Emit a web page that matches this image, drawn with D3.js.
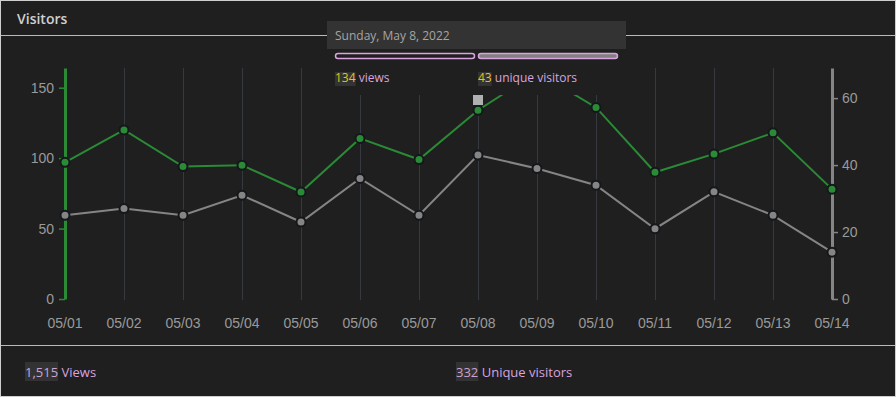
<!DOCTYPE html>
<html><head><meta charset="utf-8">
<script src="https://cdn.jsdelivr.net/npm/d3@7"></script>
<style>
html,body{margin:0;padding:0;background:#1f1f1f;}
svg{display:block;}
</style></head>
<body>
<svg id="c" width="896" height="397"></svg>
<script>
const dates = ["05/01","05/02","05/03","05/04","05/05","05/06","05/07","05/08","05/09","05/10","05/11","05/12","05/13","05/14"];
const views = [97,120,94,95,76,114,99,134,161,136,90,103,118,78];
const uniques = [25,27,25,31,23,36,25,43,39,34,21,32,25,14];
const leftTicks = [0,50,100,150];
const rightTicks = [0,20,40,60];
const title = "Visitors";
const tipDate = "Sunday, May 8, 2022";
const hoverIndex = 7;
const totalViews = "1,515";
const totalUniques = "332";

const W = 896, H = 397;
const svg = d3.select("#c");
const green = "#2a8a36", gray = "#858585", pink = "#d9a3df", txt = "#9a9a9a";
const fontUI = "'Open Sans','Noto Sans',sans-serif";
const fontAx = "'Liberation Sans',Arial,sans-serif";

svg.append("rect").attr("x",0.5).attr("y",0.5).attr("width",W-1).attr("height",H-1)
  .attr("fill","#1f1f1f").attr("stroke","#cfcfcf").attr("stroke-width",1);

svg.append("text").attr("x",17).attr("y",24).text(title)
  .attr("fill","#d0d0d0").attr("font-family",fontUI).attr("font-size",14).attr("font-weight",600);

svg.append("line").attr("x1",1).attr("x2",W-1).attr("y1",35.5).attr("y2",35.5).attr("stroke",pink).attr("stroke-width",1);
svg.append("line").attr("x1",1).attr("x2",W-1).attr("y1",345.5).attr("y2",345.5).attr("stroke",pink).attr("stroke-width",1);

const x = d3.scalePoint().domain(dates).range([65,832]);
const yL = d3.scaleLinear().domain([0,164]).range([299,68]);
const yR = d3.scaleLinear().domain([0,69]).range([299,68]);

// grid
svg.append("g").selectAll("line").data(dates.slice(1,-1)).join("line")
  .attr("x1",d=>Math.round(x(d))+0.5).attr("x2",d=>Math.round(x(d))+0.5)
  .attr("y1",68).attr("y2",300).attr("stroke","#363a40").attr("stroke-width",1);

// x labels
svg.append("g").selectAll("text").data(dates).join("text")
  .attr("x",d=>x(d)).attr("y",328).attr("text-anchor","middle").text(d=>d)
  .attr("fill",txt).attr("font-family",fontAx).attr("font-size",14);

// left axis
const gL = svg.append("g").attr("transform","translate(65,0)")
  .call(d3.axisLeft(yL).tickValues(leftTicks).tickSize(6).tickSizeOuter(0).tickPadding(5));
gL.select(".domain").attr("stroke",green).attr("stroke-width",3);
gL.selectAll(".tick line").attr("stroke",green).attr("stroke-width",1.5);
gL.selectAll(".tick text").attr("fill",txt).attr("font-family",fontAx).attr("font-size",14);

// right axis
const gR = svg.append("g").attr("transform","translate(832,0)")
  .call(d3.axisRight(yR).tickValues(rightTicks).tickSize(6).tickSizeOuter(0).tickPadding(4));
gR.select(".domain").attr("stroke",gray).attr("stroke-width",3);
gR.selectAll(".tick line").attr("stroke",gray).attr("stroke-width",1.5);
gR.selectAll(".tick text").attr("fill",txt).attr("font-family",fontAx).attr("font-size",14);

// lines
const lv = d3.line().x((d,i)=>x(dates[i])).y(d=>yL(d));
const lu = d3.line().x((d,i)=>x(dates[i])).y(d=>yR(d));
svg.append("path").datum(views).attr("d",lv).attr("fill","none").attr("stroke",green).attr("stroke-width",2);
svg.append("path").datum(uniques).attr("d",lu).attr("fill","none").attr("stroke",gray).attr("stroke-width",2);

svg.append("g").selectAll("circle").data(views).join("circle")
  .attr("cx",(d,i)=>x(dates[i])).attr("cy",d=>yL(d)).attr("r",4.5)
  .attr("fill",green).attr("stroke","#14171b").attr("stroke-width",2);
svg.append("g").selectAll("circle").data(uniques).join("circle")
  .attr("cx",(d,i)=>x(dates[i])).attr("cy",d=>yR(d)).attr("r",4.5)
  .attr("fill",gray).attr("stroke","#14171b").attr("stroke-width",2);

// tooltip
const tx = 327, ty = 21, tw = 299;
svg.append("rect").attr("x",tx).attr("y",ty+28).attr("width",tw).attr("height",46).attr("fill","#1f1f1f");
svg.append("rect").attr("x",tx).attr("y",ty).attr("width",tw).attr("height",28).attr("fill","#333333");
svg.append("text").attr("x",335).attr("y",40).text(tipDate)
  .attr("fill","#a5a5a5").attr("font-family",fontUI).attr("font-size",12);
svg.append("rect").attr("x",335.5).attr("y",53.5).attr("width",139).attr("height",5).attr("rx",2.5)
  .attr("fill","#1f1f1f").attr("stroke",pink).attr("stroke-width",1.5);
svg.append("rect").attr("x",478.5).attr("y",53.5).attr("width",139).attr("height",5).attr("rx",2.5)
  .attr("fill","#808080").attr("stroke",pink).attr("stroke-width",1.5);

function valueLabel(xp, yp, num, label, size, numColor, h){
  const g = svg.append("g");
  const t = g.append("text").attr("x",xp).attr("y",yp)
    .attr("font-family",fontUI).attr("font-size",size);
  const n = t.append("tspan").text(num).attr("fill",numColor);
  t.append("tspan").text(" "+label).attr("fill",pink);
  const nl = n.node().getComputedTextLength();
  g.insert("rect","text").attr("x",xp).attr("y",yp-h[0]).attr("width",nl).attr("height",h[1]).attr("fill","#333333");
}
valueLabel(335, 82, views[hoverIndex], "views", 12, "#e6c31a", [10,14]);
valueLabel(478, 82, uniques[hoverIndex], "unique visitors", 12, "#e6c31a", [10,14]);

// hover marker
svg.append("rect").attr("x",x(dates[hoverIndex])-5).attr("y",95).attr("width",10).attr("height",10).attr("fill","#b0b0b0");

// summary
valueLabel(25, 377, totalViews, "Views", 13, "#c9a4d3", [15,19]);
valueLabel(456, 377, totalUniques, "Unique visitors", 13, "#c9a4d3", [15,19]);
</script>
</body></html>
